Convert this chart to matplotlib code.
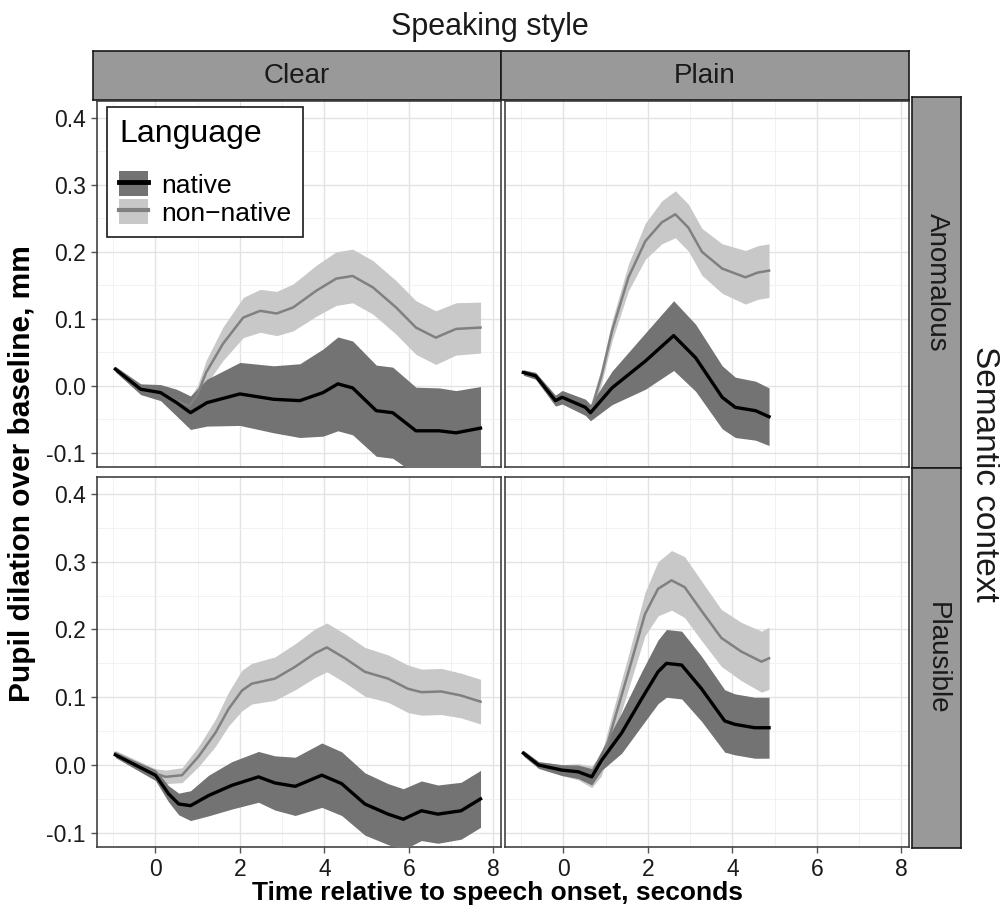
import matplotlib
matplotlib.use("Agg")
import matplotlib.pyplot as plt
from matplotlib.patches import Patch
from matplotlib.lines import Line2D
from matplotlib.ticker import MultipleLocator

plt.rcParams['font.family'] = ['Liberation Sans', 'DejaVu Sans']

STYLES = ['Clear', 'Plain']
CONTEXTS = ['Anomalous', 'Plausible']

# Clear / Anomalous
ca_nat_t = [-0.95, -0.35, 0.12, 0.5, 0.83, 1.22, 2.0, 2.8, 3.42, 3.97, 4.32, 4.67, 5.23, 5.62, 6.17, 6.72, 7.12, 7.7]
ca_nat_y = [0.025, -0.005, -0.01, -0.025, -0.04, -0.025, -0.012, -0.02, -0.022, -0.01, 0.003, -0.003, -0.037, -0.04, -0.067, -0.067, -0.07, -0.063]
ca_nat_ci = [0.004, 0.008, 0.012, 0.02, 0.025, 0.035, 0.047, 0.05, 0.055, 0.065, 0.07, 0.07, 0.068, 0.068, 0.065, 0.064, 0.063, 0.062]
ca_non_t = [-0.95, -0.35, 0.12, 0.5, 0.8, 1.0, 1.2, 1.6, 2.08, 2.48, 2.87, 3.26, 3.81, 4.28, 4.67, 5.15, 5.7, 6.17, 6.64, 7.12, 7.7]
ca_non_y = [0.025, -0.005, -0.01, -0.022, -0.03, -0.012, 0.02, 0.063, 0.102, 0.112, 0.108, 0.117, 0.142, 0.16, 0.164, 0.147, 0.117, 0.087, 0.072, 0.085, 0.087]
ca_non_ci = [0.004, 0.006, 0.008, 0.01, 0.011, 0.013, 0.018, 0.025, 0.03, 0.032, 0.033, 0.035, 0.038, 0.04, 0.04, 0.04, 0.04, 0.04, 0.04, 0.039, 0.038]

# Plain / Anomalous
pa_nat_t = [-0.95, -0.66, -0.19, -0.03, 0.52, 0.64, 1.15, 1.94, 2.61, 3.13, 3.76, 4.07, 4.55, 4.87]
pa_nat_y = [0.02, 0.015, -0.022, -0.017, -0.032, -0.04, -0.003, 0.037, 0.075, 0.042, -0.017, -0.032, -0.037, -0.046]
pa_nat_ci = [0.004, 0.005, 0.008, 0.01, 0.012, 0.012, 0.025, 0.042, 0.052, 0.05, 0.047, 0.045, 0.044, 0.043]
pa_non_t = [-0.95, -0.66, -0.19, -0.03, 0.52, 0.64, 0.9, 1.15, 1.54, 1.94, 2.33, 2.65, 2.96, 3.28, 3.76, 4.31, 4.6, 4.87]
pa_non_y = [0.02, 0.015, -0.022, -0.017, -0.032, -0.04, 0.015, 0.082, 0.162, 0.216, 0.244, 0.256, 0.236, 0.2, 0.175, 0.162, 0.169, 0.172]
pa_non_ci = [0.004, 0.005, 0.008, 0.01, 0.012, 0.012, 0.012, 0.015, 0.02, 0.027, 0.032, 0.035, 0.035, 0.035, 0.037, 0.04, 0.04, 0.04]

# Clear / Plausible
cp_nat_t = [-0.95, 0.0, 0.31, 0.55, 0.83, 1.26, 1.81, 2.44, 2.83, 3.31, 3.94, 4.41, 4.96, 5.51, 5.87, 6.3, 6.69, 7.24, 7.7]
cp_nat_y = [0.015, -0.015, -0.0425, -0.0575, -0.06, -0.045, -0.03, -0.0175, -0.0265, -0.0315, -0.015, -0.0275, -0.0575, -0.0725, -0.08, -0.0675, -0.0725, -0.0675, -0.05]
cp_nat_ci = [0.004, 0.008, 0.012, 0.016, 0.022, 0.03, 0.035, 0.0375, 0.04, 0.043, 0.0475, 0.047, 0.046, 0.045, 0.045, 0.044, 0.043, 0.042, 0.042]
cp_non_t = [-0.95, 0.0, 0.24, 0.63, 1.02, 1.42, 1.73, 2.05, 2.28, 2.83, 3.31, 3.78, 4.06, 4.49, 4.96, 5.51, 5.98, 6.3, 6.77, 7.24, 7.7]
cp_non_y = [0.0175, -0.0125, -0.0175, -0.015, 0.0125, 0.0475, 0.0825, 0.11, 0.12, 0.1275, 0.145, 0.165, 0.1735, 0.1575, 0.1375, 0.1275, 0.1125, 0.1075, 0.1085, 0.1025, 0.0935]
cp_non_ci = [0.004, 0.007, 0.01, 0.011, 0.015, 0.02, 0.025, 0.03, 0.03, 0.032, 0.034, 0.036, 0.036, 0.036, 0.036, 0.035, 0.035, 0.034, 0.034, 0.033, 0.033]

# Plain / Plausible
pp_nat_t = [-0.95, -0.59, -0.04, 0.35, 0.67, 0.91, 1.38, 1.85, 2.24, 2.44, 2.8, 3.27, 3.82, 4.06, 4.53, 4.87]
pp_nat_y = [0.0175, 0.0, -0.0075, -0.01, -0.0175, 0.0075, 0.0475, 0.0975, 0.1375, 0.15, 0.1475, 0.1125, 0.065, 0.06, 0.055, 0.055]
pp_nat_ci = [0.004, 0.005, 0.008, 0.01, 0.012, 0.015, 0.03, 0.04, 0.047, 0.05, 0.05, 0.048, 0.046, 0.045, 0.045, 0.045]
pp_non_t = [-0.95, -0.59, -0.04, 0.35, 0.67, 0.9, 1.14, 1.54, 1.93, 2.24, 2.56, 2.87, 3.27, 3.74, 4.21, 4.69, 4.87]
pp_non_y = [0.0175, 0.0, -0.0075, -0.01, -0.0175, 0.0, 0.0525, 0.1375, 0.2225, 0.26, 0.2725, 0.2625, 0.2275, 0.1875, 0.1675, 0.1525, 0.1575]
pp_non_ci = [0.004, 0.005, 0.008, 0.012, 0.016, 0.016, 0.02, 0.025, 0.032, 0.04, 0.044, 0.045, 0.044, 0.042, 0.043, 0.045, 0.046]

PANELS = {
    ('Clear', 'Anomalous'): ((ca_nat_t, ca_nat_y, ca_nat_ci), (ca_non_t, ca_non_y, ca_non_ci)),
    ('Plain', 'Anomalous'): ((pa_nat_t, pa_nat_y, pa_nat_ci), (pa_non_t, pa_non_y, pa_non_ci)),
    ('Clear', 'Plausible'): ((cp_nat_t, cp_nat_y, cp_nat_ci), (cp_non_t, cp_non_y, cp_non_ci)),
    ('Plain', 'Plausible'): ((pp_nat_t, pp_nat_y, pp_nat_ci), (pp_non_t, pp_non_y, pp_non_ci)),
}

NAT_FILL, NAT_LINE = '#737373', '#000000'
NON_FILL, NON_LINE = '#c8c8c8', '#808080'
STRIP = '#999999'

W, H = 1000, 913
fig = plt.figure(figsize=(W / 100, H / 100), dpi=100)


def box(x0, y0, x1, y1):
    return [x0 / W, 1 - y1 / H, (x1 - x0) / W, (y1 - y0) / H]


cols = [(97, 501), (505, 909)]
rows = [(101, 467), (477, 847)]


def strip(rect, label, rot):
    s = fig.add_axes(rect)
    s.set_facecolor(STRIP)
    s.set_xticks([])
    s.set_yticks([])
    for sp in s.spines.values():
        sp.set_color('#1a1a1a')
        sp.set_linewidth(1.2)
    s.text(0.5, 0.5, label, rotation=rot, ha='center', va='center',
           fontsize=20, color='#1a1a1a', transform=s.transAxes)


for ci, style in enumerate(STYLES):
    strip(box(cols[ci][0] - 4, 51, cols[ci][1], 100), style, 0)
strip(box(912, 97, 961, 468), 'Anomalous', -90)
strip(box(912, 468, 961, 848), 'Plausible', -90)

first_ax = None
for ri, ctx in enumerate(CONTEXTS):
    for ci, style in enumerate(STYLES):
        ax = fig.add_axes(box(cols[ci][0], rows[ri][0], cols[ci][1], rows[ri][1]))
        nat, non = PANELS[(style, ctx)]
        ax.fill_between(non[0], [m - c for m, c in zip(non[1], non[2])],
                        [m + c for m, c in zip(non[1], non[2])], color=NON_FILL, lw=0, zorder=2)
        ax.fill_between(nat[0], [m - c for m, c in zip(nat[1], nat[2])],
                        [m + c for m, c in zip(nat[1], nat[2])], color=NAT_FILL, lw=0, zorder=3)
        ax.plot(non[0], non[1], color=NON_LINE, lw=1.8, zorder=4)
        ax.plot(nat[0], nat[1], color=NAT_LINE, lw=2.4, zorder=5)

        ax.set_xlim(-1.385, 8.185)
        ax.set_ylim(-0.121, 0.425)
        ax.xaxis.set_major_locator(MultipleLocator(2))
        ax.xaxis.set_minor_locator(MultipleLocator(1))
        ax.yaxis.set_major_locator(MultipleLocator(0.1))
        ax.yaxis.set_minor_locator(MultipleLocator(0.05))
        ax.grid(which='major', color='#e3e3e3', lw=1.0, zorder=0)
        ax.grid(which='minor', color='#f0f0f0', lw=0.6, zorder=0)
        ax.set_axisbelow(True)
        for sp in ax.spines.values():
            sp.set_color('#333333')
            sp.set_linewidth(1.1)
        ax.tick_params(which='minor', length=0)
        ax.tick_params(which='major', length=4, width=1, color='#555555',
                       labelsize=16.5, labelcolor='#1a1a1a', pad=4)
        ax.yaxis.set_major_formatter(plt.FuncFormatter(lambda v, p: f'{v:.1f}'))
        if ri == 0:
            ax.tick_params(axis='x', length=0, labelbottom=False)
        if ci == 1:
            ax.tick_params(axis='y', length=0, labelleft=False)
        if first_ax is None:
            first_ax = ax

handles = [
    (Patch(facecolor=NAT_FILL, edgecolor='none'), Line2D([], [], color=NAT_LINE, lw=3.5)),
    (Patch(facecolor=NON_FILL, edgecolor='none'), Line2D([], [], color=NON_LINE, lw=3)),
]
leg = first_ax.legend(handles, ['native', 'non\u2212native'], title='Language',
                      loc='upper left', bbox_to_anchor=(0.025, 0.984), borderaxespad=0,
                      fontsize=19, title_fontsize=23, frameon=True, fancybox=False,
                      edgecolor='#1a1a1a', framealpha=1, handlelength=1.1,
                      handleheight=1.1, handletextpad=0.5, labelspacing=0.05,
                      borderpad=0.45, alignment='left')
leg._legend_box.sep = 16
leg.get_frame().set_linewidth(1.2)
leg.set_zorder(10)

fig.text(0.49, 1 - 27 / H, 'Speaking style', ha='center', va='center', fontsize=22, color='#1a1a1a')
fig.text(0.985, 1 - 474 / H, 'Semantic context', ha='center', va='center', rotation=-90,
         fontsize=24, color='#1a1a1a')
fig.text(0.022, 1 - 474 / H, 'Pupil dilation over baseline, mm', ha='center', va='center',
         rotation=90, fontsize=21.5, fontweight='bold')
fig.text(0.497, 1 - 893 / H, 'Time relative to speech onset, seconds', ha='center', va='center',
         fontsize=19, fontweight='bold')

fig.savefig('out.png', dpi=100)
